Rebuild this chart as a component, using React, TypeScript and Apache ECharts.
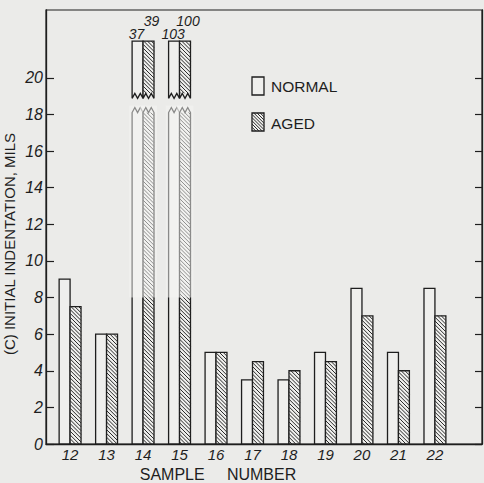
import React, { useEffect, useRef } from "react";
import * as echarts from "echarts";

// ---- data ----
const samples = [12, 13, 14, 15, 16, 17, 18, 19, 20, 21, 22];
const normalValues = [9, 6, 37, 103, 5, 3.5, 3.5, 5, 8.5, 5, 8.5];
const agedValues = [7.5, 6, 39, 100, 5, 4.5, 4, 4.5, 7, 4, 7];
const yTickValues = [0, 2, 4, 6, 8, 10, 12, 14, 16, 18, 20];
const seriesNames = ["NORMAL", "AGED"];

// axis break drawing levels (in axis units)
const BREAK_TOP = 22;
const BREAK_HI = 19.15;
const BREAK_LO = 18.1;
const FADE_FROM = 8;
const Y_MAX = 23.7;
const X_MIN = 11.34;
const X_MAX = 23.29;
const BAR_FRAC = 0.3;

const INK = "#1e1e1e";
const BG = "#ebebe9";
const BAR_FILL = "#efefed";

function hatch(x0: number, x1: number, y0: number, y1: number, step = 3.8) {
  const out: any[] = [];
  let c = Math.floor((y0 - x1) / step) * step;
  for (; c <= y1 - x0; c += step) {
    const xs = Math.max(x0, y0 - c);
    const xe = Math.min(x1, y1 - c);
    if (xe > xs + 0.3) {
      out.push({
        type: "line",
        shape: { x1: xs, y1: xs + c, x2: xe, y2: xe + c },
        style: { stroke: "#2a2a2a", lineWidth: 1 },
        silent: true,
      });
    }
  }
  return out;
}

function makeRender(side: number, hatched: boolean) {
  return (params: any, api: any) => {
    const s = api.value(0);
    const v = api.value(1);
    const [cx, yBase] = api.coord([s, 0]);
    const w = api.size([BAR_FRAC, 0])[0];
    const xL = side === 0 ? cx - w : cx;
    const xR = xL + w;
    const children: any[] = [];
    const strokeStyle = { fill: BAR_FILL, stroke: INK, lineWidth: 1.3 };
    if (v <= BREAK_TOP) {
      const yTop = api.coord([s, v])[1];
      children.push({
        type: "rect",
        shape: { x: xL, y: yTop, width: w, height: yBase - yTop },
        style: strokeStyle,
      });
      if (hatched) children.push(...hatch(xL, xR, yTop, yBase));
    } else {
      const yTop = api.coord([s, BREAK_TOP])[1];
      const yHi = api.coord([s, BREAK_HI])[1];
      const yLo = api.coord([s, BREAK_LO])[1];
      const yFade = api.coord([s, FADE_FROM])[1];
      const a = 5;
      const q = w / 4;
      // lower piece with zigzag top
      children.push({
        type: "polygon",
        shape: {
          points: [
            [xL, yBase],
            [xR, yBase],
            [xR, yLo],
            [xR - q, yLo - a],
            [xR - 2 * q, yLo],
            [xR - 3 * q, yLo - a],
            [xL, yLo],
          ],
        },
        style: strokeStyle,
      });
      if (hatched) children.push(...hatch(xL, xR, yLo, yBase));
      // faded (washed out) band of the scan
      children.push({
        type: "rect",
        shape: { x: xL - 3, y: yLo - a - 2, width: w + 6, height: yFade - yLo + a + 2 },
        style: { fill: "rgba(246,246,244,0.5)" },
        silent: true,
      });
      // upper piece with zigzag bottom
      children.push({
        type: "polygon",
        shape: {
          points: [
            [xL, yTop],
            [xR, yTop],
            [xR, yHi + a],
            [xR - q, yHi],
            [xR - 2 * q, yHi + a],
            [xR - 3 * q, yHi],
            [xL, yHi + a],
          ],
        },
        style: strokeStyle,
      });
      if (hatched) children.push(...hatch(xL, xR, yTop, yHi));
      children.push({
        type: "text",
        style: {
          text: String(v),
          x: (xL + xR) / 2 + (side === 0 ? -1 : 3),
          y: yTop - (side === 0 ? 7 : 20),
          align: "center",
          verticalAlign: "middle",
          font: 'italic 14px "Liberation Sans"',
          fill: INK,
        },
      });
    }
    return { type: "group", children };
  };
}

export default function App() {
  const ref = useRef<HTMLDivElement>(null);
  useEffect(() => {
    if (!ref.current) return;
    const chart = echarts.init(ref.current, null, { renderer: "svg" });
    const numFont = { fontFamily: "Liberation Sans", fontStyle: "italic" as const, color: INK };

    // legend drawn as graphic
    const lgX = 252;
    const legendGraphic: any[] = [
      {
        type: "rect",
        shape: { x: lgX, y: 77, width: 12, height: 18 },
        style: { fill: BAR_FILL, stroke: INK, lineWidth: 1.3 },
      },
      {
        type: "text",
        style: {
          x: lgX + 19, y: 86, text: seriesNames[0], verticalAlign: "middle",
          font: '15.5px "Liberation Sans"', fill: INK,
        },
      },
      {
        type: "rect",
        shape: { x: lgX, y: 113, width: 12, height: 18 },
        style: { fill: BAR_FILL, stroke: INK, lineWidth: 1.3 },
      },
      ...hatch(lgX, lgX + 12, 113, 131, 3.2),
      {
        type: "text",
        style: {
          x: lgX + 19, y: 123, text: seriesNames[1], verticalAlign: "middle",
          font: '15.5px "Liberation Sans"', fill: INK,
        },
      },
    ];

    chart.setOption({
      animation: false,
      backgroundColor: BG,
      grid: {
        left: 46, right: 2, top: 10, bottom: 39,
        show: true, borderColor: INK, borderWidth: 1.2,
        outerBoundsMode: "none",
      },
      xAxis: {
        type: "value",
        min: X_MIN,
        max: X_MAX,
        name: "SAMPLE     NUMBER",
        nameLocation: "middle",
        nameGap: 20,
        nameTextStyle: {
          fontFamily: "Liberation Sans", fontSize: 16, color: INK,
          padding: [0, 92, 0, 0], verticalAlign: "top",
        },
        axisLine: { show: true, lineStyle: { color: INK, width: 1.3 } },
        axisTick: { show: false },
        splitLine: { show: false },
        axisLabel: {
          customValues: samples,
          formatter: (v: number) => String(Math.round(v)),
          fontSize: 15, margin: 3, ...numFont,
        },
      },
      yAxis: [
        {
          type: "value",
          min: 0,
          max: Y_MAX,
          name: "(C) INITIAL INDENTATION, MILS",
          nameLocation: "middle",
          nameGap: 29,
          nameMoveOverlap: false,
          nameTextStyle: {
            fontFamily: "Liberation Sans", fontSize: 15, color: INK,
            padding: [0, 34, 0, 0],
          },
          axisLine: { show: true, lineStyle: { color: INK, width: 1.3 } },
          axisTick: {
            show: true, inside: true, length: 8, customValues: yTickValues,
            lineStyle: { color: INK, width: 1.2 },
          },
          splitLine: { show: false },
          axisLabel: {
            customValues: yTickValues,
            fontSize: 16, margin: 3, ...numFont,
          },
        },
        {
          type: "value",
          position: "right",
          min: 0,
          max: Y_MAX,
          axisLine: { show: true, lineStyle: { color: INK, width: 1.3 } },
          axisTick: {
            show: true, inside: true, length: 7, customValues: yTickValues,
            lineStyle: { color: INK, width: 1.2 },
          },
          splitLine: { show: false },
          axisLabel: { show: false },
        },
      ],
      series: [
        {
          name: seriesNames[0],
          type: "custom",
          clip: false,
          encode: { x: 0, y: 1 },
          data: samples.map((s, i) => [s, normalValues[i]]),
          renderItem: makeRender(0, false),
        },
        {
          name: seriesNames[1],
          type: "custom",
          clip: false,
          encode: { x: 0, y: 1 },
          data: samples.map((s, i) => [s, agedValues[i]]),
          renderItem: makeRender(1, true),
        },
      ],
      graphic: legendGraphic,
    });
    return () => chart.dispose();
  }, []);
  return (
    <div
      ref={ref}
      style={{ position: "fixed", left: 0, top: 0, width: 484, height: 483 }}
    />
  );
}
